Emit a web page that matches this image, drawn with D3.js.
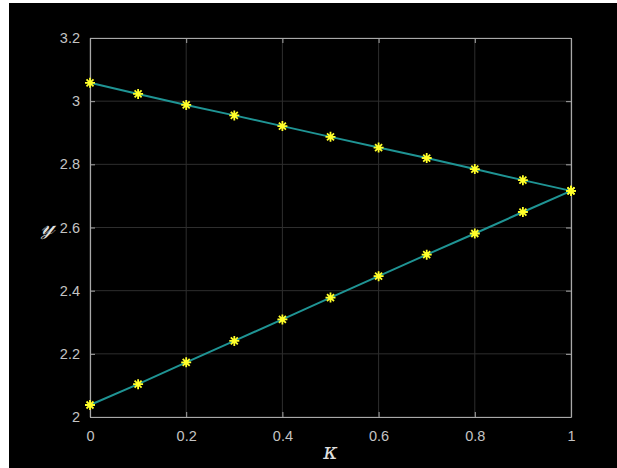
<!DOCTYPE html>
<html>
<head>
<meta charset="utf-8">
<script src="https://cdn.jsdelivr.net/npm/d3@7"></script>
<style>
  body { margin: 0; background: #fff; }
  svg { display: block; }
  .tick text { font-family: "Liberation Sans", Arial, sans-serif; font-size: 14.5px; fill: #c4c4c4; }
  .axis-label { font-family: "DejaVu Serif", serif; font-style: italic; fill: #e0e0e0; }
</style>
</head>
<body>
<div id="chart"></div>
<script>
const svgWidth = 617;
const svgHeight = 468;

// data
const kappa = [0, 0.1, 0.2, 0.3, 0.4, 0.5, 0.6, 0.7, 0.8, 0.9, 1];
const upper = [3.058, 3.023, 2.988, 2.955, 2.921, 2.887, 2.853, 2.820, 2.785, 2.750, 2.716];
const lower = [2.038, 2.104, 2.173, 2.241, 2.309, 2.378, 2.446, 2.514, 2.581, 2.649, 2.716];
const xTicks = [0, 0.2, 0.4, 0.6, 0.8, 1];
const yTicks = [2, 2.2, 2.4, 2.6, 2.8, 3, 3.2];

const svg = d3.select('#chart')
  .append('svg')
    .attr('width', svgWidth)
    .attr('height', svgHeight);

// black figure background (white strip left/top like the screenshot)
svg.append('rect')
  .attr('x', 9).attr('y', 3)
  .attr('width', svgWidth - 9).attr('height', svgHeight - 3)
  .attr('fill', '#000');

const margin = { top: 38, right: 46, bottom: 51, left: 90 };
const innerWidth = svgWidth - margin.left - margin.right;
const innerHeight = svgHeight - margin.top - margin.bottom;

const g = svg.append('g')
  .attr('transform', `translate(${margin.left},${margin.top})`);

const xScale = d3.scaleLinear().domain([0, 1]).range([0, innerWidth]);
const yScale = d3.scaleLinear().domain([2, 3.2]).range([innerHeight, 0]);

// grid
g.append('g').selectAll('line').data(xTicks)
  .enter().append('line')
    .attr('x1', d => xScale(d)).attr('x2', d => xScale(d))
    .attr('y1', 0).attr('y2', innerHeight)
    .attr('stroke', '#2e2e2e').attr('stroke-width', 1);
g.append('g').selectAll('line').data(yTicks)
  .enter().append('line')
    .attr('x1', 0).attr('x2', innerWidth)
    .attr('y1', d => yScale(d)).attr('y2', d => yScale(d))
    .attr('stroke', '#2e2e2e').attr('stroke-width', 1);

const fmt = d => String(d);

const styleAxis = sel => {
  sel.select('.domain').attr('stroke', '#a8a8a8').attr('stroke-width', 1.2);
  sel.selectAll('.tick line').attr('stroke', '#a8a8a8');
};

const xAxisG = g.append('g')
  .attr('transform', `translate(0,${innerHeight})`)
  .call(d3.axisBottom(xScale).tickValues(xTicks).tickFormat(fmt)
    .tickSizeInner(-5).tickSizeOuter(0).tickPadding(14));
styleAxis(xAxisG);

const yAxisG = g.append('g')
  .call(d3.axisLeft(yScale).tickValues(yTicks).tickFormat(fmt)
    .tickSizeInner(-5).tickSizeOuter(0).tickPadding(10));
styleAxis(yAxisG);

// box ticks on top and right, no labels
const topAxisG = g.append('g')
  .call(d3.axisTop(xScale).tickValues(xTicks)
    .tickSizeInner(-5).tickSizeOuter(0));
topAxisG.selectAll('.tick text').remove();
styleAxis(topAxisG);

const rightAxisG = g.append('g')
  .attr('transform', `translate(${innerWidth},0)`)
  .call(d3.axisRight(yScale).tickValues(yTicks)
    .tickSizeInner(-5).tickSizeOuter(0));
rightAxisG.selectAll('.tick text').remove();
styleAxis(rightAxisG);

// axis labels
g.append('text')
  .classed('axis-label', true)
  .attr('x', xScale(0.5))
  .attr('y', innerHeight + 42)
  .attr('text-anchor', 'middle')
  .attr('font-size', 22)
  .text('κ');

g.append('text')
  .classed('axis-label', true)
  .attr('x', -42)
  .attr('y', yScale(2.6) + 6)
  .attr('text-anchor', 'middle')
  .attr('font-size', 24)
  .text('𝓎');

// lines
const line = d3.line()
  .x((d, i) => xScale(kappa[i]))
  .y(d => yScale(d));

[upper, lower].forEach(series => {
  g.append('path')
    .datum(series)
    .attr('fill', 'none')
    .attr('stroke', '#1f9494')
    .attr('stroke-width', 2)
    .attr('d', line);
});

// asterisk markers
const r = 5;
const star = `M${-r},0L${r},0M0,${-r}L0,${r}` +
  `M${-r * 0.7},${-r * 0.7}L${r * 0.7},${r * 0.7}M${-r * 0.7},${r * 0.7}L${r * 0.7},${-r * 0.7}`;

[upper, lower].forEach(series => {
  g.append('g').selectAll('path').data(series)
    .enter().append('path')
      .attr('transform', (d, i) => `translate(${xScale(kappa[i])},${yScale(d)})`)
      .attr('d', star)
      .attr('stroke', '#ffff2a')
      .attr('stroke-width', 1.8)
      .attr('fill', 'none');
});
</script>
</body>
</html>
